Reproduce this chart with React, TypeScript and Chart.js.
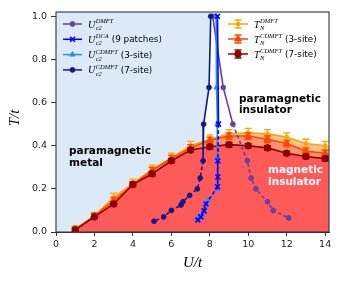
import React, { useEffect, useRef } from 'react';
import { Chart, registerables } from 'chart.js';
import { drawPoint } from 'chart.js/helpers';
Chart.register(...registerables);

// axis
const X_MIN = 0, X_MAX = 14.2, Y_MIN = 0, Y_MAX = 1.02;
const X_TICKS = [0, 2, 4, 6, 8, 10, 12, 14];
const Y_TICKS = [0, 0.2, 0.4, 0.6, 0.8, 1.0];

// Neel temperatures
const U_TN = [1, 2, 3, 4, 5, 6, 7, 8, 9, 10, 11, 12, 13, 14];
const TN_DMFT = [0.015, 0.075, 0.16, 0.225, 0.29, 0.345, 0.40, 0.43, 0.455, 0.46, 0.455, 0.44, 0.41, 0.40];
const TN_DMFT_ERR = [0.015, 0.015, 0.02, 0.02, 0.02, 0.02, 0.02, 0.02, 0.02, 0.02, 0.02, 0.02, 0.02, 0.02];
const TN_3SITE = [0.01, 0.075, 0.145, 0.22, 0.285, 0.34, 0.39, 0.425, 0.445, 0.445, 0.43, 0.41, 0.375, 0.365];
const TN_3SITE_ERR = [0.012, 0.012, 0.015, 0.015, 0.015, 0.015, 0.015, 0.015, 0.015, 0.015, 0.015, 0.015, 0.015, 0.015];
const TN_7SITE = [0.01, 0.07, 0.13, 0.22, 0.27, 0.33, 0.38, 0.395, 0.405, 0.40, 0.39, 0.365, 0.35, 0.34];
const TN_7SITE_ERR = [0.008, 0.008, 0.01, 0.01, 0.01, 0.01, 0.01, 0.01, 0.01, 0.01, 0.01, 0.01, 0.01, 0.01];

// Uc2 lines
const UC2_DMFT_U = [8.15, 8.7, 9.2, 9.95, 10.15, 10.4, 11.0, 11.3, 12.1];
const UC2_DMFT_T = [1.0, 0.67, 0.5, 0.33, 0.25, 0.2, 0.14, 0.1, 0.065];
const UC2_DCA_U = [8.4, 8.45, 8.42, 8.42, 8.4, 7.8, 7.7, 7.53, 7.38];
const UC2_DCA_T = [1.0, 0.5, 0.33, 0.255, 0.21, 0.13, 0.098, 0.07, 0.056];
const UC2_3SITE_U = [8.33, 8.35, 8.4, 8.38, 8.4, 7.92, 7.75, 7.6, 7.38];
const UC2_3SITE_T = [1.0, 0.67, 0.5, 0.34, 0.2, 0.148, 0.11, 0.08, 0.065];
const UC2_7SITE_U = [8.05, 7.96, 7.68, 7.65, 7.5, 7.35, 6.95, 6.6, 6.5, 6.0, 5.6, 5.1];
const UC2_7SITE_T = [1.0, 0.67, 0.5, 0.33, 0.25, 0.2, 0.17, 0.14, 0.125, 0.1, 0.07, 0.05];

const pts = (xs: number[], ys: number[]) => xs.map((x, i) => ({ x, y: ys[i] }));
// fill area reaches the right frame, holding the last value
const fillPts = (xs: number[], ys: number[]) => [...pts(xs, ys), { x: X_MAX, y: ys[ys.length - 1] }];

const C_BLUE_BG = '#DCEAF7';
const C_PURPLE = '#6640a8';
const C_DCA = '#0000ff';
const C_3SITE = '#1e90ff';
const C_7SITE = '#16168c';
const C_TN_DMFT = '#ffa500';
const C_TN_3SITE = '#ff4500';
const C_TN_7SITE = '#8b0000';

const dashed = (from: number) => ({
  borderDash: (c: any) => (c.p0DataIndex >= from ? [3.5, 2.5] : []),
});

const LEG1 = [
  { color: C_PURPLE, style: 'circle', r: 2.4, base: 'U', sub: 'c2', sup: 'DMFT', rest: '' },
  { color: C_DCA, style: 'crossRot', r: 3.5, base: 'U', sub: 'c2', sup: 'DCA', rest: '(9 patches)' },
  { color: C_3SITE, style: 'triangle', r: 3, base: 'U', sub: 'c2', sup: 'CDMFT', rest: '(3-site)' },
  { color: C_7SITE, style: 'circle', r: 2.4, base: 'U', sub: 'c2', sup: 'CDMFT', rest: '(7-site)' },
];
const LEG2 = [
  { color: C_TN_DMFT, style: 'circle', r: 2, base: 'T', sub: 'N', sup: 'DMFT', rest: '' },
  { color: C_TN_3SITE, style: 'triangle', r: 4, base: 'T', sub: 'N', sup: 'CDMFT', rest: '(3-site)' },
  { color: C_TN_7SITE, style: 'circle', r: 3.3, base: 'T', sub: 'N', sup: 'CDMFT', rest: '(7-site)' },
];

function drawMath(ctx: CanvasRenderingContext2D, x: number, yc: number, e: any) {
  const base = yc + 3.5;
  ctx.fillStyle = '#000';
  ctx.textBaseline = 'alphabetic';
  ctx.textAlign = 'left';
  ctx.font = 'italic 10px "Liberation Serif"';
  ctx.fillText(e.base, x, base);
  let cx = x + ctx.measureText(e.base).width + 0.5;
  ctx.font = 'italic 6.5px "Liberation Serif"';
  ctx.fillText(e.sup, cx, base - 4.5);
  ctx.fillText(e.sub, cx, base + 2.5);
  cx += Math.max(ctx.measureText(e.sup).width, ctx.measureText(e.sub).width) + 3;
  if (e.rest) {
    ctx.font = '8.8px "DejaVu Sans"';
    ctx.fillText(e.rest, cx, base - 0.5);
  }
}

const bgPlugin = {
  id: 'bgRegion',
  beforeDatasetsDraw(chart: any) {
    const { ctx, chartArea: a, scales } = chart;
    const xs = scales.x, ys = scales.y;
    ctx.save();
    ctx.beginPath();
    ctx.rect(a.left, a.top, a.right - a.left, a.bottom - a.top);
    ctx.clip();
    ctx.beginPath();
    ctx.moveTo(xs.getPixelForValue(X_MIN), ys.getPixelForValue(Y_MAX));
    ctx.lineTo(xs.getPixelForValue(UC2_7SITE_U[0]), ys.getPixelForValue(Y_MAX));
    UC2_7SITE_U.forEach((u, i) => ctx.lineTo(xs.getPixelForValue(u), ys.getPixelForValue(UC2_7SITE_T[i])));
    ctx.lineTo(xs.getPixelForValue(X_MIN), ys.getPixelForValue(Y_MIN));
    ctx.closePath();
    ctx.fillStyle = C_BLUE_BG;
    ctx.fill();
    ctx.restore();
  },
};

const errPlugin = {
  id: 'errBars',
  afterDatasetDraw(chart: any, args: any) {
    const ds: any = chart.data.datasets[args.index];
    if (!ds.errors) return;
    const { ctx, scales } = chart;
    const xs = scales.x, ys = scales.y;
    ctx.save();
    ctx.strokeStyle = ds.borderColor;
    ctx.lineWidth = 1.3;
    ds.data.forEach((p: any, j: number) => {
      const e = ds.errors[j];
      const px = xs.getPixelForValue(p.x);
      const y1 = ys.getPixelForValue(p.y - e);
      const y2 = ys.getPixelForValue(p.y + e);
      ctx.beginPath();
      ctx.moveTo(px, y1); ctx.lineTo(px, y2);
      ctx.moveTo(px - 3.5, y1); ctx.lineTo(px + 3.5, y1);
      ctx.moveTo(px - 3.5, y2); ctx.lineTo(px + 3.5, y2);
      ctx.stroke();
    });
    ctx.restore();
  },
};

const overlayPlugin = {
  id: 'overlay',
  afterDraw(chart: any) {
    const { ctx, chartArea: a, scales } = chart;
    const xs = scales.x, ys = scales.y;
    ctx.save();
    // frame
    ctx.strokeStyle = '#333';
    ctx.lineWidth = 1.1;
    ctx.strokeRect(a.left, a.top, a.right - a.left, a.bottom - a.top);

    // region labels
    ctx.textAlign = 'left';
    ctx.textBaseline = 'middle';
    ctx.font = 'bold 10.5px "DejaVu Sans"';
    const lab = (t: string, u: number, T: number, c: string) => {
      ctx.fillStyle = c;
      ctx.fillText(t, xs.getPixelForValue(u), ys.getPixelForValue(T));
    };
    lab('paramagnetic', 0.68, 0.376, '#000');
    lab('metal', 0.68, 0.32, '#000');
    lab('paramagnetic', 9.52, 0.615, '#000');
    lab('insulator', 9.52, 0.563, '#000');
    lab('magnetic', 11.03, 0.288, '#fff');
    lab('insulator', 11.03, 0.23, '#fff');

    // legends
    const drawLeg = (list: any[], x0: number, x1: number, tx: number, y0: number, dy: number, err: boolean) => {
      list.forEach((e, i) => {
        const y = y0 + i * dy;
        const xm = (x0 + x1) / 2;
        ctx.strokeStyle = e.color;
        ctx.fillStyle = e.color;
        ctx.lineWidth = 1.5;
        ctx.beginPath(); ctx.moveTo(x0, y); ctx.lineTo(x1, y); ctx.stroke();
        if (err) {
          ctx.lineWidth = 1.3;
          ctx.beginPath();
          ctx.moveTo(xm, y - 4); ctx.lineTo(xm, y + 4);
          ctx.moveTo(xm - 3.5, y - 4); ctx.lineTo(xm + 3.5, y - 4);
          ctx.moveTo(xm - 3.5, y + 4); ctx.lineTo(xm + 3.5, y + 4);
          ctx.stroke();
        }
        ctx.lineWidth = e.style === 'crossRot' ? 1.6 : 1;
        drawPoint(ctx, { pointStyle: e.style, radius: e.r, rotation: 0, borderWidth: ctx.lineWidth } as any, xm, y);
        drawMath(ctx, tx, y, e);
      });
    };
    drawLeg(LEG1, 63, 82, 88, 24, 15.3, false);
    drawLeg(LEG2, 228, 248, 254, 24, 15, true);

    // axis titles
    ctx.fillStyle = '#000';
    ctx.font = 'italic 15px "Liberation Serif"';
    ctx.textAlign = 'center';
    ctx.textBaseline = 'middle';
    ctx.fillText('U/t', (a.left + a.right) / 2, 263);
    ctx.translate(15, 118);
    ctx.rotate(-Math.PI / 2);
    ctx.fillText('T/t', 0, 0);
    ctx.restore();
  },
};

export default function App() {
  const ref = useRef<HTMLCanvasElement>(null);
  useEffect(() => {
    document.body.style.margin = '0';
    const tickFont = { family: 'DejaVu Sans', size: 9.5 };
    const fillDs = (data: any, color: string, order: number) => ({
      data, showLine: true, borderWidth: 0, pointRadius: 0, fill: 'start',
      backgroundColor: color, borderColor: 'rgba(0,0,0,0)', order,
    });
    const lineDs = (data: any, color: string, style: string, r: number, order: number, extra: any = {}) => ({
      data, showLine: true, borderColor: color, backgroundColor: color, borderWidth: 1.6,
      pointStyle: style, pointRadius: r, pointBorderWidth: style === 'crossRot' ? 1.6 : 1,
      pointBackgroundColor: color, pointBorderColor: color, fill: false, order, ...extra,
    });
    const chart = new Chart(ref.current!, {
      type: 'scatter',
      data: {
        datasets: [
          fillDs(fillPts(U_TN, TN_DMFT), '#FDC28C', 30),
          fillDs(fillPts(U_TN, TN_3SITE), '#FF9670', 29),
          fillDs(fillPts(U_TN, TN_7SITE), '#FF5A5A', 28),
          lineDs(pts(U_TN, TN_DMFT), C_TN_DMFT, 'circle', 2, 20, { errors: TN_DMFT_ERR }),
          lineDs(pts(U_TN, TN_3SITE), C_TN_3SITE, 'triangle', 4, 19, { errors: TN_3SITE_ERR }),
          lineDs(pts(U_TN, TN_7SITE), C_TN_7SITE, 'circle', 3.3, 18, { errors: TN_7SITE_ERR }),
          lineDs(pts(UC2_DMFT_U, UC2_DMFT_T), C_PURPLE, 'circle', 2.4, 4, { segment: dashed(2) }),
          lineDs(pts(UC2_7SITE_U, UC2_7SITE_T), C_7SITE, 'circle', 2.4, 3, { segment: dashed(3) }),
          lineDs(pts(UC2_3SITE_U, UC2_3SITE_T), C_3SITE, 'triangle', 3, 2, { segment: dashed(2) }),
          lineDs(pts(UC2_DCA_U, UC2_DCA_T), C_DCA, 'crossRot', 3.5, 1, { segment: dashed(1) }),
        ] as any,
      },
      options: {
        responsive: false,
        animation: false,
        devicePixelRatio: 1,
        layout: { padding: { top: 12, right: 13, left: 0, bottom: 0 } },
        plugins: { legend: { display: false }, tooltip: { enabled: false } },
        scales: {
          x: {
            type: 'linear', min: X_MIN, max: X_MAX,
            afterFit: (s: any) => { s.height = 50; },
            afterBuildTicks: (s: any) => { s.ticks = X_TICKS.map((v) => ({ value: v })); },
            ticks: { font: tickFont, color: '#222', padding: 3, maxRotation: 0, autoSkip: false, callback: (v: any) => String(v) },
            grid: { drawOnChartArea: false, drawTicks: true, tickLength: 4, tickColor: '#333', tickWidth: 1 },
            border: { display: true, color: '#333', width: 1 },
          },
          y: {
            type: 'linear', min: Y_MIN, max: Y_MAX,
            afterFit: (s: any) => { s.width = 56; },
            afterBuildTicks: (s: any) => { s.ticks = Y_TICKS.map((v) => ({ value: v })); },
            ticks: { font: tickFont, color: '#222', padding: 4, autoSkip: false, callback: (v: any) => Number(v).toFixed(1) },
            grid: { drawOnChartArea: false, drawTicks: true, tickLength: 5, tickColor: '#333', tickWidth: 1 },
            border: { display: true, color: '#333', width: 1 },
          },
        },
      } as any,
      plugins: [bgPlugin, errPlugin, overlayPlugin],
    });
    return () => chart.destroy();
  }, []);
  return (
    <div style={{ position: 'absolute', left: 0, top: 0, width: 342, height: 282 }}>
      <canvas ref={ref} width={342} height={282} style={{ width: 342, height: 282, display: 'block' }} />
    </div>
  );
}
